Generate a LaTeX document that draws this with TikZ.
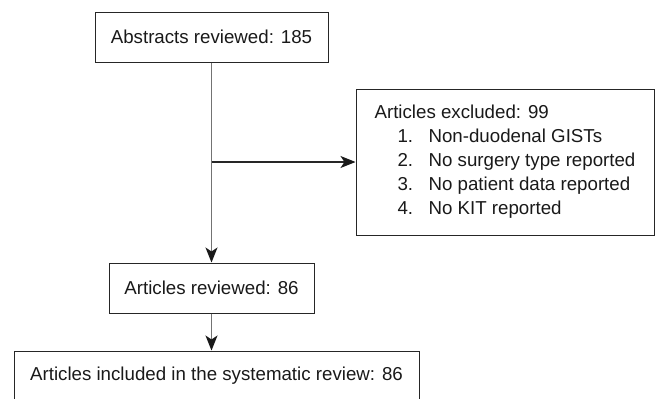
\documentclass[tikz,border=0pt]{standalone}
\usepackage{fontspec}
\setmainfont{Liberation Sans}
\usetikzlibrary{arrows.meta}
\begin{document}
\begin{tikzpicture}[x=1pt,y=-1pt,
  box/.style={draw=black!85, line width=1pt, inner sep=0pt, text=black!90,
    font=\fontsize{18.7}{24}\selectfont},
  vconn/.style={draw=black!55, line width=1.3pt},
  hconn/.style={draw=black!85, line width=1.1pt},
  tip/.style={-{Stealth[length=15pt,width=12pt,inset=4pt,black!90]}}]
\useasboundingbox (0,0) rectangle (657,399);
\node[box, minimum width=233pt, minimum height=50pt] (a) at (211.5,37) {Abstracts reviewed: 185};
\node[box, minimum width=298pt, minimum height=146pt] (d) at (505,162) {%
  \begin{tabular}{@{}l@{\hspace{15.4pt}}l@{}}
  \multicolumn{2}{@{}l@{}}{Articles excluded: 99}\\
  \hspace{23pt}1. & Non-duodenal GISTs\\
  \hspace{23pt}2. & No surgery type reported\\
  \hspace{23pt}3. & No patient data reported\\
  \hspace{23pt}4. & No KIT reported
  \end{tabular}};
\node[box, minimum width=205pt, minimum height=50pt] (b) at (211.5,288) {Articles reviewed: 86};
\node[box, minimum width=405pt, minimum height=50pt] (c) at (216.5,376) {Articles included in the systematic review: 86};
\coordinate (j) at (a.south |- d.west);
\draw[vconn, tip] (a.south) -- (b.north);
\draw[hconn, tip] (j) -- (d.west);
\draw[vconn, tip] (b.south) -- (b.south |- c.north);
\end{tikzpicture}
\end{document}
